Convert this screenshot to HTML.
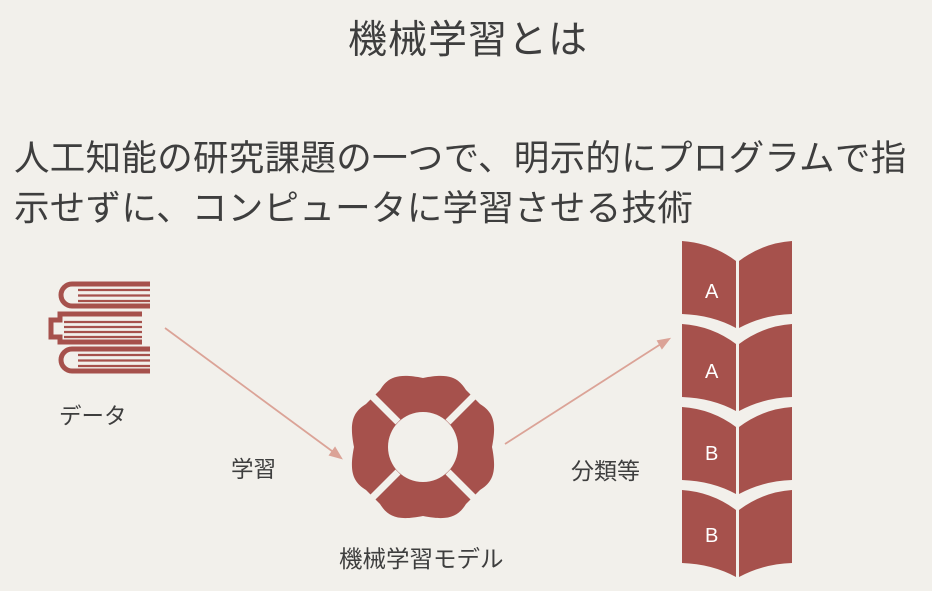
<!DOCTYPE html>
<html><head><meta charset="utf-8"><style>
body{margin:0;width:932px;height:591px;background:#f2f0eb;overflow:hidden;position:relative;font-family:"Liberation Sans","Noto Sans CJK JP",sans-serif;color:#3e3e3e}
.t{position:absolute;white-space:nowrap}
</style></head><body>
<div class="t" style="left:348px;top:9px;font-size:39px;letter-spacing:1px">機械学習とは</div>
<div class="t" style="left:14px;top:133px;font-size:35.5px;line-height:50px;letter-spacing:0.3px">人工知能の研究課題の一つで、明示的にプログラムで指<br>示せずに、コンピュータに学習させる技術</div>
<div class="t" style="left:59px;top:399px;font-size:22.5px">データ</div>
<div class="t" style="left:231px;top:452px;font-size:22.5px">学習</div>
<div class="t" style="left:571px;top:452px;font-size:23px">分類等</div>
<div class="t" style="left:339px;top:540px;font-size:23.5px">機械学習モデル</div>
<svg width="932" height="591" style="position:absolute;left:0;top:0">
<g stroke="#a6514c" fill="none">
 <path d="M150 284 H72 A10 10 0 0 0 72 306 H150" stroke-width="5"/>
 <path d="M78 290H150M78 295.5H150M78 301H150" stroke-width="2.2"/>
 <path d="M150 349 H72 A10 10 0 0 0 72 371 H150" stroke-width="5"/>
 <path d="M78 355H150M78 360.5H150M78 366H150" stroke-width="2.2"/>
 <path d="M142 314 H60 V320 H51 V337 H60 V342 H142" stroke-width="5"/>
 <path d="M64 322H142M64 327H142M64 332H142M64 337H142" stroke-width="2.2"/>
</g>
<g stroke="#dba397" stroke-width="1.8" fill="#dba397">
 <line x1="165" y1="328" x2="336" y2="454"/>
 <path d="M341 458 L330 455 L335 448 Z"/>
 <line x1="505" y1="444" x2="664" y2="342"/>
 <path d="M669 339 L662 348 L658 341 Z"/>
</g>
<g transform="translate(423,447)">
 <path fill="#a6514c" d="M-43 -57 C-35 -70 -25 -74 0 -69 C25 -74 35 -70 43 -57 L57 -43 C70 -35 74 -25 69 0 C74 25 70 35 57 43 L43 57 C35 70 25 74 0 69 C-25 74 -35 70 -43 57 L-57 43 C-70 35 -74 25 -69 0 C-74 -25 -70 -35 -57 -43 Z"/>
 <circle r="35" fill="#f2f0eb"/>
 <g stroke="#f2f0eb" stroke-width="7">
  <line x1="25" y1="25" x2="60" y2="60"/><line x1="-25" y1="25" x2="-60" y2="60"/>
  <line x1="25" y1="-25" x2="60" y2="-60"/><line x1="-25" y1="-25" x2="-60" y2="-60"/>
 </g>
</g>
<g fill="#a6514c">
 <g id="bk">
  <path d="M682 241 Q712 243 736 261 V328 Q712 315 682 314 Z"/>
  <path d="M739 261 Q763 243 792 241 V314 Q763 315 739 328 Z"/>
 </g>
 <use href="#bk" y="83"/><use href="#bk" y="166"/><use href="#bk" y="249"/>
</g>
<g fill="#fff" font-size="20" font-family="Liberation Sans,sans-serif">
 <text x="705" y="298">A</text><text x="705" y="378">A</text>
 <text x="705" y="460">B</text><text x="705" y="542">B</text>
</g>
</svg>
</body></html>
